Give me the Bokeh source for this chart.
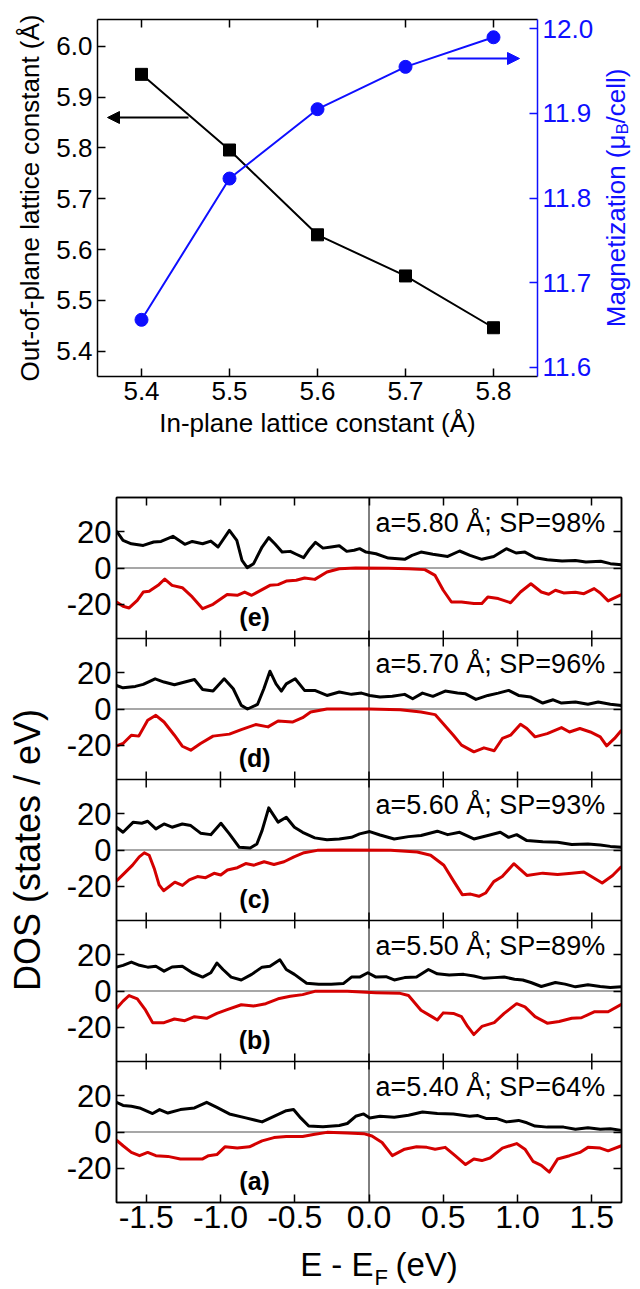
from math import pi
import numpy as np
from bokeh.plotting import figure
from bokeh.models import (Range1d, LinearAxis, FixedTicker, PrintfTickFormatter, Arrow, NormalHead,
                          Span, CustomJSTickFormatter)
from bokeh.layouts import row, column
from bokeh.core.properties import value
from bokeh.embed import file_html
from bokeh.resources import INLINE

FONT = "Liberation Sans"
BLUE = "#0f0fff"
RED = "#d40000"

# ---------------- data: top chart ----------------
inplane = [5.4, 5.5, 5.6, 5.7, 5.8]
outofplane = [5.945, 5.796, 5.629, 5.548, 5.446]
magnetization = [11.656, 11.823, 11.905, 11.955, 11.990]
left_ticks = [5.4, 5.5, 5.6, 5.7, 5.8, 5.9, 6.0]
right_ticks = [11.6, 11.7, 11.8, 11.9, 12.0]

# ---------------- data: DOS panels (x = E-EF, y = DOS) ----------------
dos_xticks = [-1.5, -1.0, -0.5, 0.0, 0.5, 1.0, 1.5]
panel_names = ["(e)", "(d)", "(c)", "(b)", "(a)"]
lattice = ["5.80", "5.70", "5.60", "5.50", "5.40"]
spin_pol = [98, 96, 93, 89, 64]

e_up = [(-1.70,20.4),(-1.656,15.3),(-1.60,13.4),(-1.52,12.5),(-1.45,14.4),(-1.40,14.7),(-1.32,17.5),
        (-1.24,13.1),(-1.19,14.7),(-1.12,13.4),(-1.065,14.9),(-1.016,11.6),(-0.94,20.8),(-0.89,15.3),
        (-0.855,4.2),(-0.82,0.2),(-0.777,2.4),(-0.72,11.6),(-0.675,16.8),(-0.634,13.4),(-0.585,8.8),
        (-0.53,9.2),(-0.49,7.6),(-0.44,5.7),(-0.406,9.8),(-0.36,14.2),(-0.31,11.0),(-0.255,11.6),
        (-0.20,12.3),(-0.15,9.2),(-0.10,9.8),(-0.063,10.7),(-0.02,8.8),(0.047,7.9),(0.13,5.5),
        (0.24,4.8),(0.29,7.0),(0.35,8.8),(0.43,7.6),(0.53,6.4),(0.61,9.4),(0.68,7.0),(0.76,4.8),
        (0.84,6.4),(0.925,10.7),(0.99,8.3),(1.05,8.8),(1.12,5.7),(1.20,4.6),(1.30,3.9),(1.39,4.2),
        (1.46,3.3),(1.56,3.7),(1.625,2.4),(1.70,1.8)]
e_dn = [(-1.70,-18.8),(-1.656,-21.2),(-1.615,-22.1),(-1.56,-17.9),(-1.52,-13.3),(-1.48,-12.9),
        (-1.42,-9.6),(-1.375,-6.1),(-1.326,-9.6),(-1.257,-10.9),(-1.19,-16.0),(-1.12,-22.5),
        (-1.05,-20.1),(-0.955,-14.7),(-0.887,-15.1),(-0.837,-13.3),(-0.79,-15.1),(-0.72,-12.0),
        (-0.667,-9.6),(-0.612,-9.2),(-0.557,-7.2),(-0.49,-6.8),(-0.434,-5.5),(-0.365,-6.3),
        (-0.283,-2.2),(-0.2,-0.4),(-0.09,0.0),(0.13,-0.2),(0.266,-0.4),(0.376,-0.9),(0.445,-4.1),
        (0.50,-12.3),(0.555,-18.8),(0.623,-18.8),(0.706,-19.7),(0.76,-19.7),(0.80,-16.0),(0.87,-16.9),
        (0.953,-19.2),(1.02,-13.3),(1.09,-8.7),(1.16,-13.3),(1.21,-14.5),(1.255,-12.3),(1.31,-13.8),
        (1.39,-13.4),(1.447,-14.2),(1.516,-11.4),(1.557,-13.8),(1.61,-18.2),(1.70,-14.7)]

d_up = [(-1.70,13.0),(-1.656,11.7),(-1.573,12.5),(-1.52,13.6),(-1.44,16.7),(-1.38,14.9),(-1.31,13.4),
        (-1.24,14.9),(-1.175,16.3),(-1.12,10.8),(-1.05,9.9),(-0.975,16.7),(-0.914,11.2),(-0.86,2.0),
        (-0.818,0.0),(-0.75,2.6),(-0.708,11.2),(-0.667,20.9),(-0.626,13.9),(-0.59,9.9),(-0.557,13.9),
        (-0.497,16.7),(-0.434,10.3),(-0.365,10.3),(-0.283,7.5),(-0.20,9.4),(-0.118,8.1),(-0.05,8.8),
        (0.005,7.5),(0.074,6.6),(0.157,7.0),(0.24,8.1),(0.294,5.7),(0.36,8.8),(0.43,7.0),(0.513,9.9),
        (0.596,8.8),(0.65,8.4),(0.72,5.3),(0.80,7.5),(0.87,8.8),(0.94,10.3),(1.007,7.5),(1.09,6.6),
        (1.17,3.3),(1.24,5.1),(1.296,3.3),(1.39,3.9),(1.474,2.6),(1.543,3.9),(1.625,2.6),(1.70,2.0)]
d_dn = [(-1.70,-20.4),(-1.656,-19.1),(-1.60,-14.5),(-1.55,-15.0),(-1.49,-6.2),(-1.435,-3.5),
        (-1.38,-7.2),(-1.31,-14.5),(-1.257,-20.6),(-1.20,-22.8),(-1.134,-19.1),(-1.05,-15.0),
        (-0.94,-13.9),(-0.86,-11.4),(-0.763,-8.6),(-0.68,-9.9),(-0.612,-6.6),(-0.516,-7.2),
        (-0.447,-4.8),(-0.393,-1.7),(-0.283,0.0),(0.0,0.0),(0.21,-0.4),(0.35,-1.7),(0.445,-3.1),
        (0.50,-8.1),(0.568,-14.5),(0.623,-20.0),(0.706,-23.7),(0.774,-21.5),(0.843,-23.1),
        (0.898,-16.3),(0.953,-14.5),(1.02,-8.4),(1.063,-10.8),(1.118,-15.4),(1.20,-13.6),
        (1.296,-10.3),(1.35,-12.7),(1.42,-10.8),(1.49,-12.7),(1.557,-15.4),(1.60,-20.4),
        (1.653,-16.3),(1.70,-11.7)]

c_up = [(-1.70,12.6),(-1.656,9.8),(-1.587,15.4),(-1.53,14.8),(-1.49,15.9),(-1.435,11.7),(-1.38,14.4),
        (-1.326,12.6),(-1.257,14.4),(-1.20,13.5),(-1.134,9.3),(-1.065,8.5),(-0.997,14.8),(-0.94,8.9),
        (-0.873,1.5),(-0.80,1.1),(-0.755,3.3),(-0.72,10.7),(-0.675,23.3),(-0.612,15.4),(-0.557,18.1),
        (-0.502,12.6),(-0.447,9.8),(-0.365,6.7),(-0.283,5.7),(-0.20,6.1),(-0.118,7.0),(-0.063,8.9),
        (0.005,10.2),(0.074,8.3),(0.17,6.1),(0.266,7.4),(0.35,8.0),(0.46,10.4),(0.53,8.5),(0.61,9.8),
        (0.706,6.1),(0.80,8.0),(0.884,9.8),(0.94,7.0),(0.994,8.5),(1.063,5.2),(1.17,4.6),(1.27,4.3),
        (1.365,3.0),(1.474,3.3),(1.557,2.8),(1.625,2.0),(1.70,1.5)]
c_dn = [(-1.70,-17.1),(-1.648,-12.9),(-1.592,-8.4),(-1.547,-3.8),(-1.513,-1.6),(-1.48,-2.9),
        (-1.446,-10.2),(-1.413,-19.3),(-1.383,-22.5),(-1.345,-20.2),(-1.307,-17.8),(-1.256,-19.6),
        (-1.21,-16.5),(-1.155,-14.7),(-1.10,-15.3),(-1.043,-12.9),(-0.998,-13.8),(-0.953,-11.1),
        (-0.886,-9.8),(-0.83,-7.5),(-0.774,-8.4),(-0.706,-6.5),(-0.64,-8.0),(-0.572,-6.5),
        (-0.505,-3.8),(-0.437,-1.5),(-0.348,-0.2),(-0.19,0.0),(0.146,-0.2),(0.325,-1.1),(0.415,-2.9),
        (0.504,-8.4),(0.572,-17.5),(0.628,-24.7),(0.684,-24.4),(0.74,-25.6),(0.785,-23.8),
        (0.84,-17.5),(0.897,-14.7),(0.975,-7.6),(1.063,-14.1),(1.17,-12.8),(1.27,-13.5),
        (1.365,-12.8),(1.447,-12.2),(1.57,-18.3),(1.64,-14.1),(1.70,-9.1)]

b_up = [(-1.70,13.2),(-1.656,14.2),(-1.60,16.0),(-1.545,14.2),(-1.49,13.2),(-1.435,13.7),(-1.38,11.0),
        (-1.326,13.3),(-1.257,13.7),(-1.19,10.1),(-1.12,7.7),(-1.065,10.1),(-1.024,15.5),(-0.983,11.9),
        (-0.928,7.7),(-0.86,6.1),(-0.79,9.2),(-0.72,13.2),(-0.667,13.7),(-0.60,17.3),(-0.557,11.9),
        (-0.502,9.2),(-0.42,4.3),(-0.338,3.8),(-0.255,3.8),(-0.173,4.1),(-0.118,7.7),(-0.063,7.7),
        (-0.008,10.1),(0.047,7.7),(0.115,7.9),(0.17,6.1),(0.24,7.4),(0.32,7.7),(0.40,11.9),(0.46,9.5),
        (0.54,8.8),(0.637,9.2),(0.706,8.3),(0.774,7.0),(0.843,7.4),(0.91,7.7),(0.98,6.5),(1.035,6.1),
        (1.09,4.7),(1.16,2.5),(1.255,4.7),(1.32,3.8),(1.39,2.3),(1.474,3.4),(1.557,2.5),(1.625,2.0),
        (1.70,2.3)]
b_dn = [(-1.70,-9.7),(-1.656,-5.6),(-1.615,-2.5),(-1.56,-4.3),(-1.504,-10.6),(-1.457,-17.5),
        (-1.38,-17.5),(-1.31,-15.5),(-1.24,-16.4),(-1.175,-14.2),(-1.093,-15.1),(-1.024,-12.4),
        (-0.955,-10.3),(-0.86,-7.6),(-0.777,-8.3),(-0.695,-7.0),(-0.612,-4.3),(-0.53,-2.9),
        (-0.447,-2.0),(-0.365,-0.2),(-0.146,-0.2),(0.047,-0.9),(0.21,-1.3),(0.266,-2.5),(0.35,-10.6),
        (0.417,-13.9),(0.46,-16.0),(0.50,-12.1),(0.568,-12.4),(0.623,-14.2),(0.664,-19.6),
        (0.706,-24.1),(0.76,-19.6),(0.843,-17.5),(0.91,-12.4),(0.994,-7.0),(1.05,-8.8),(1.118,-14.2),
        (1.20,-17.8),(1.28,-16.9),(1.365,-15.1),(1.43,-14.8),(1.516,-11.5),(1.61,-11.5),(1.70,-7.4)]

a_up = [(-1.70,16.4),(-1.656,14.7),(-1.60,14.2),(-1.545,13.3),(-1.457,10.2),(-1.41,12.4),(-1.354,10.5),
        (-1.27,12.4),(-1.175,13.3),(-1.093,16.4),(-1.024,13.6),(-0.94,10.0),(-0.83,7.8),(-0.72,5.6),
        (-0.64,8.7),(-0.557,11.8),(-0.508,12.4),(-0.46,7.8),(-0.406,3.3),(-0.31,2.9),(-0.20,3.6),
        (-0.146,4.7),(-0.09,8.7),(-0.036,10.0),(0.005,7.8),(0.074,8.7),(0.17,8.2),(0.266,9.3),
        (0.36,11.1),(0.46,10.2),(0.568,10.0),(0.678,8.7),(0.733,9.1),(0.788,7.5),(0.857,7.5),
        (0.925,5.6),(1.007,6.4),(1.063,5.1),(1.118,3.3),(1.20,2.7),(1.31,2.7),(1.39,1.5),(1.474,2.4),
        (1.557,1.5),(1.625,1.8),(1.70,0.9)]
a_dn = [(-1.70,-4.5),(-1.656,-7.6),(-1.60,-11.3),(-1.545,-13.1),(-1.49,-11.3),(-1.435,-13.1),
        (-1.354,-13.5),(-1.27,-14.9),(-1.19,-14.9),(-1.12,-14.9),(-1.08,-13.1),(-1.024,-12.5),
        (-0.97,-8.2),(-0.887,-8.9),(-0.805,-8.2),(-0.72,-4.9),(-0.64,-3.1),(-0.557,-2.5),(-0.447,-2.5),
        (-0.365,-1.3),(-0.283,-0.2),(-0.146,-0.5),(-0.036,-0.9),(0.02,-2.2),(0.088,-5.8),(0.157,-13.1),
        (0.24,-9.5),(0.32,-8.2),(0.39,-8.5),(0.445,-9.5),(0.513,-8.5),(0.58,-13.1),(0.65,-18.0),
        (0.706,-14.9),(0.76,-15.8),(0.815,-14.4),(0.898,-8.9),(0.994,-6.4),(1.05,-9.5),(1.104,-16.2),
        (1.16,-18.5),(1.214,-22.2),(1.27,-14.9),(1.35,-13.1),(1.42,-11.3),(1.474,-8.5),(1.557,-8.9),
        (1.61,-10.4),(1.70,-7.6)]

spin_up = [e_up, d_up, c_up, b_up, a_up]
spin_dn = [e_dn, d_dn, c_dn, b_dn, a_dn]


def style(ax, color="black", tick_size="26px", label_size="26px"):
    ax.major_tick_in = 8
    ax.major_tick_out = 0
    ax.minor_tick_line_color = None
    ax.axis_line_width = 1.5
    ax.major_tick_line_width = 1.5
    ax.axis_line_color = color
    ax.major_tick_line_color = color
    ax.major_label_text_color = color
    ax.major_label_text_font = FONT
    ax.major_label_text_font_size = tick_size
    ax.axis_label_text_font = FONT
    ax.axis_label_text_font_size = label_size
    ax.axis_label_text_font_style = "normal"
    ax.axis_label_text_color = color


def blank():
    return CustomJSTickFormatter(code="return '';")


def bare(width, height, xr, yr, left=0, right=0, top=0, bottom=0):
    f = figure(width=width, height=height, x_range=Range1d(*xr), y_range=Range1d(*yr), title=None,
               x_axis_type=None, y_axis_type=None, output_backend="svg", toolbar_location=None,
               min_border_left=left, min_border_right=right, min_border_top=top, min_border_bottom=bottom)
    f.outline_line_color = None
    return f


# ================= top chart =================
T_L, T_R, T_T, T_B = 97, 60, 19, 104
TW, TH = 597, 480
TFW, TFH = TW - T_L - T_R, TH - T_T - T_B
XR = (5.35, 5.85)
YR = (5.35, 6.053)
MR = (11.589, 12.011)

p1 = figure(width=TW, height=TH, x_range=Range1d(*XR), y_range=Range1d(*YR), title=None,
            x_axis_type=None, y_axis_type=None, output_backend="svg", toolbar_location=None,
            min_border_left=T_L, min_border_right=T_R, min_border_top=T_T, min_border_bottom=T_B)
p1.outline_line_color = None
p1.extra_y_ranges = {"mag": Range1d(*MR)}

xb = LinearAxis(ticker=FixedTicker(ticks=inplane), formatter=PrintfTickFormatter(format="%.1f"),
                axis_label="In-plane lattice constant (Å)")
style(xb)
p1.add_layout(xb, "below")
xt = LinearAxis(ticker=FixedTicker(ticks=inplane), formatter=blank())
style(xt)
p1.add_layout(xt, "above")
yl = LinearAxis(ticker=FixedTicker(ticks=left_ticks), formatter=PrintfTickFormatter(format="%.1f"),
                axis_label="Out-of-plane lattice constant (Å)", axis_label_standoff=8)
style(yl)
p1.add_layout(yl, "left")
yr = LinearAxis(y_range_name="mag", ticker=FixedTicker(ticks=right_ticks),
                formatter=PrintfTickFormatter(format="%.1f"))
style(yr, color=BLUE)
p1.add_layout(yr, "right")

p1.line(inplane, outofplane, color="black", line_width=2)
p1.scatter(inplane, outofplane, marker="square", size=12, color="black")
p1.line(inplane, magnetization, y_range_name="mag", color=BLUE, line_width=2)
p1.scatter(inplane, magnetization, y_range_name="mag", marker="circle", size=13, color=BLUE)


def t_x(px):
    return XR[0] + (px - T_L) * (XR[1] - XR[0]) / TFW


def t_y(py):
    return YR[0] + (T_T + TFH - py) * (YR[1] - YR[0]) / TFH


def t_m(py):
    return MR[0] + (T_T + TFH - py) * (MR[1] - MR[0]) / TFH


p1.add_layout(Arrow(end=NormalHead(size=12, fill_color="black", line_color="black"),
                    x_start=t_x(188), y_start=t_y(117), x_end=t_x(107), y_end=t_y(117),
                    line_color="black", line_width=2))
p1.add_layout(Arrow(end=NormalHead(size=12, fill_color=BLUE, line_color=BLUE),
                    x_start=t_x(447), y_start=t_m(58), x_end=t_x(519), y_end=t_m(58),
                    y_range_name="mag", line_color=BLUE, line_width=2))

# right-hand axis title (with subscript) in a narrow strip beside the chart
LW = 640 - TW
pl = bare(LW, TH, (0, LW), (0, TFH), top=T_T, bottom=T_B)
A = 134  # page y where "μ" ends


def l_y(py):
    return T_T + TFH - py


pl.text(x=[615 - TW], y=[l_y(A)], text=["Magnetization (μ"], angle=pi / 2, text_align="right",
        text_baseline="middle", text_font=value(FONT), text_font_size=value("26px"), text_color=BLUE)
pl.text(x=[622 - TW], y=[l_y(A)], text=["B"], angle=pi / 2, text_align="left",
        text_baseline="middle", text_font=value(FONT), text_font_size=value("17px"), text_color=BLUE)
pl.text(x=[615 - TW], y=[l_y(A - 11)], text=["/cell)"], angle=pi / 2, text_align="left",
        text_baseline="middle", text_font=value(FONT), text_font_size=value("26px"), text_color=BLUE)

top_row = row(p1, pl, spacing=0)

# ================= DOS panels =================
D_L, D_R, D_T, D_B = 116, 19, 17, 41
DW = 640
DFH = 705
DH = D_T + DFH + D_B
DFW = DW - D_L - D_R
PITCH = 78
HALF = 39
NP = len(spin_up)
offsets = [(NP - 1 - i) * PITCH for i in range(NP)]
DXR = (-1.7, 1.7)
DYR = (-HALF, NP * PITCH - HALF)

p2 = figure(width=DW, height=DH, x_range=Range1d(*DXR), y_range=Range1d(*DYR), title=None,
            x_axis_type=None, y_axis_type=None, output_backend="svg", toolbar_location=None,
            min_border_left=D_L, min_border_right=D_R, min_border_top=D_T, min_border_bottom=D_B)
p2.outline_line_color = "black"
p2.outline_line_width = 1.5

ytk = [o + t for o in offsets for t in (-20, 0, 20)]
ylab = CustomJSTickFormatter(code="const r = Math.round(tick - 78*Math.round(tick/78)); return r.toString();")
dl = LinearAxis(ticker=FixedTicker(ticks=ytk), formatter=ylab, axis_label="DOS (states / eV)",
                axis_label_standoff=16)
style(dl, tick_size="31px", label_size="36px")
p2.add_layout(dl, "left")
dr = LinearAxis(ticker=FixedTicker(ticks=ytk), formatter=blank())
style(dr)
p2.add_layout(dr, "right")
db = LinearAxis(ticker=FixedTicker(ticks=dos_xticks), formatter=PrintfTickFormatter(format="%.1f"),
                major_label_standoff=3)
style(db, tick_size="32px")
p2.add_layout(db, "below")
dt = LinearAxis(ticker=FixedTicker(ticks=dos_xticks), formatter=blank())
style(dt)
p2.add_layout(dt, "above")

p2.add_layout(Span(location=0, dimension="height", line_color="black", line_width=1, level="underlay"))
for o in offsets:
    p2.add_layout(Span(location=o, dimension="width", line_color="#8a8a8a", line_width=1.5,
                       level="underlay"))

bounds = [o + HALF for o in offsets[1:]]
for b in bounds:
    p2.add_layout(Span(location=b, dimension="width", line_color="black", line_width=1.5))
tl = 8 * (DYR[1] - DYR[0]) / DFH
sx = [t for b in bounds for t in dos_xticks]
sy0 = [b - tl for b in bounds for t in dos_xticks]
sy1 = [b + tl for b in bounds for t in dos_xticks]
p2.segment(x0=sx, y0=sy0, x1=sx, y1=sy1, line_color="black", line_width=1.5)

for up, dn, o in zip(spin_up, spin_dn, offsets):
    ux, uy = np.array(up).T
    dx, dy = np.array(dn).T
    p2.line(dx, dy + o, color=RED, line_width=3, line_join="round")
    p2.line(ux, uy + o, color="black", line_width=3, line_join="round")

info = [f"a={a} Å; SP={s}%" for a, s in zip(lattice, spin_pol)]
p2.text(x=[1.59] * NP, y=[o + 25 for o in offsets], text=info, text_align="right",
        text_baseline="middle", text_font=value(FONT), text_font_size=value("27px"), text_color="black")
p2.text(x=[-0.77] * NP, y=[o - 27 for o in offsets], text=panel_names, text_align="center",
        text_baseline="middle", text_font=value(FONT), text_font_size=value("25px"),
        text_font_style="bold", text_color="black")

# x-axis title (with subscript) in a strip below the DOS panels (same side borders as the panels)
XH = 1289 - TH - DH
XTOP = TH + DH
px = bare(DW, XH, DXR, (0, XH), left=D_L, right=D_R)


def d_x(pxl):
    return DXR[0] + (pxl - D_L) * (DXR[1] - DXR[0]) / DFW


def x_y(py):
    return XTOP + XH - py


AX = 373
px.text(x=[d_x(AX)], y=[x_y(1264)], text=["E - E"], text_align="right", text_baseline="middle",
        text_font=value(FONT), text_font_size=value("33px"), text_color="black")
px.text(x=[d_x(AX + 1)], y=[x_y(1277)], text=["F"], text_align="left", text_baseline="middle",
        text_font=value(FONT), text_font_size=value("22px"), text_color="black")
px.text(x=[d_x(AX + 22)], y=[x_y(1264)], text=["(eV)"], text_align="left", text_baseline="middle",
        text_font=value(FONT), text_font_size=value("33px"), text_color="black")

layout = column(top_row, p2, px, spacing=0)
open("out.html", "w").write(file_html(layout, INLINE))
